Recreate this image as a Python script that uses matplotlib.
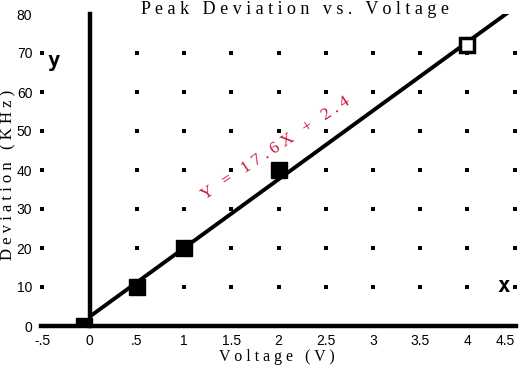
import numpy as np
import matplotlib
matplotlib.use("Agg")
import matplotlib.pyplot as plt

# data
volts = [-0.06, 0.5, 1.0, 2.0]
dev = [0.0, 10.0, 20.0, 40.0]
volts_open = [4.0]
dev_open = [72.0]
slope, intercept = 17.6, 2.4
fit_x = [0.0, 4.5]

x_ticks = [-0.5, 0, 0.5, 1, 1.5, 2, 2.5, 3, 3.5, 4, 4.5]
x_tick_labels = ["-.5", "0", ".5", "1", "1.5", "2", "2.5", "3", "3.5", "4", "4.5"]
y_ticks = [0, 10, 20, 30, 40, 50, 60, 70, 80]


def spaced(s):
    # old chart draws its labels with wide letter spacing
    return " ".join(s)


serif = "Liberation Serif"
sans = "Liberation Sans"

fig = plt.figure(figsize=(5.23, 3.71), dpi=100)
W, H = 523, 371
# a little slack on both sides so the edge dots are not clipped
ax = fig.add_axes([40.6 / W, 45 / H, 475.8 / W, 312 / H])
ax.set_xlim(-0.52, 4.52)
ax.set_ylim(0, 80)
for s in ax.spines.values():
    s.set_visible(False)

# dotted grid at every tick crossing (no row at the top tick)
gx, gy = np.meshgrid(x_ticks, y_ticks[:-1])
ax.plot(gx.ravel(), gy.ravel(), "s", ms=3.2, mew=0, color="black", zorder=2, clip_on=False)

# thick axes through the origin
ax.axhline(0, color="black", lw=3.2, zorder=6, clip_on=False)
ax.axvline(0, color="black", lw=3.2, zorder=6, clip_on=False)

# fitted line
fy = [slope * x + intercept for x in fit_x]
ax.plot(fit_x, fy, color="black", lw=2.8, zorder=4, solid_capstyle="butt")

ax.plot(volts, dev, "s", ms=11, color="black", zorder=5, clip_on=True)
ax.plot(volts_open, dev_open, "s", ms=10, mfc="white", mec="black", mew=2.5, zorder=5)

ax.text(1.97, 45.5, spaced("Y = 17.6X + 2.4"), color="#cc1133", fontsize=12.5,
        family=serif, rotation=33.5, ha="center", va="center",
        rotation_mode="anchor", zorder=7)

ax.text(-0.38, 68, "y", fontsize=15, fontweight="bold", family="DejaVu Sans Mono",
        ha="center", va="center", zorder=7,
        bbox=dict(facecolor="white", edgecolor="none", pad=0))
ax.text(4.39, 10.3, "x", fontsize=15, fontweight="bold", family="DejaVu Sans Mono",
        ha="center", va="center", zorder=7,
        bbox=dict(facecolor="white", edgecolor="none", pad=0))

ax.set_xticks(x_ticks)
ax.set_xticklabels(x_tick_labels, family=sans, fontsize=10)
ax.get_xticklabels()[-1].set_ha("right")
ax.set_yticks(y_ticks)
ax.set_yticklabels([str(v) for v in y_ticks], family=sans, fontsize=10)
ax.tick_params(length=0, pad=6)

fig.text(295 / W, 1 - 10 / H, spaced("Peak Deviation vs. Voltage"), family=serif,
         fontsize=13, ha="center", va="center")
fig.text(277 / W, 1 - 357 / H, spaced("Voltage (V)"), family=serif,
         fontsize=11.5, ha="center", va="center")
fig.text(8 / W, 1 - 175 / H, spaced("Deviation (KHz)"), family=serif,
         fontsize=12, ha="center", va="center", rotation=90)

fig.savefig("out.png", dpi=100)
